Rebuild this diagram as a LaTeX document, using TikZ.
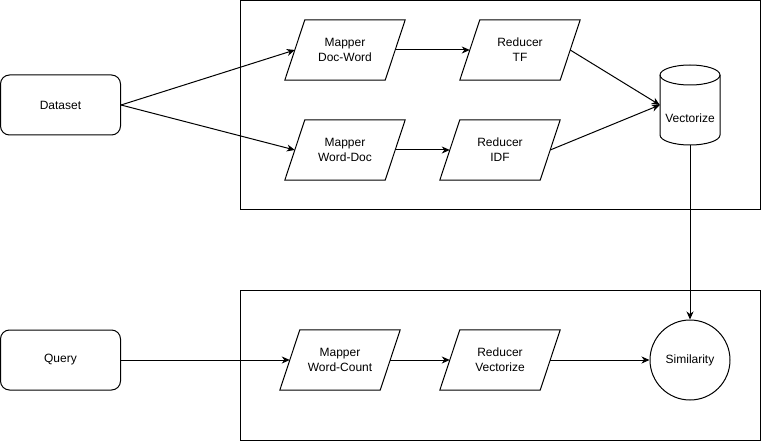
\documentclass[tikz,border=0pt]{standalone}
\usepackage{fontspec}
\setmainfont{Liberation Sans}
\usetikzlibrary{arrows.meta}
\begin{document}
\begin{tikzpicture}[x=1pt, y=-1pt,
  every node/.style={font=\fontsize{12}{15}\selectfont, align=center, inner sep=0pt},
  line/.style={line width=1pt},
  flow/.style={line width=1pt, -{Stealth[length=8pt, width=7pt, inset=2.5pt]}},
  startbox/.style={draw, line width=1pt, rounded corners=9pt, minimum width=120pt, minimum height=60pt},
  slot/.style={minimum width=100pt, minimum height=60pt},
  pgram/.style={line width=1pt, line join=miter}
]
\useasboundingbox (0,0) rectangle (761,441);

% group frames
\draw[line] (240,0.5) rectangle (760,210);
\draw[line] (240,290) rectangle (760,440);

% sources
\node[startbox] (data)  at (60.5,105) {Dataset};
\node[startbox] (query) at (60.5,360) {Query};

% map/reduce steps (parallelograms drawn below)
\node[slot] (mdw) at (345,50)  {Mapper\\Doc-Word};
\node[slot] (rtf) at (520,50)  {Reducer\\TF};
\node[slot] (mwd) at (345,150) {Mapper\\Word-Doc};
\node[slot] (rid) at (500,150) {Reducer\\IDF};
\node[slot] (mwc) at (340,360) {Mapper\\Word-Count};
\node[slot] (rvc) at (500,360) {Reducer\\Vectorize};
\foreach \n in {mdw,rtf,mwd,rid,mwc,rvc}
  \draw[pgram] ([xshift=10pt]\n.north west) -- ([xshift=10pt]\n.north east)
    -- ([xshift=-10pt]\n.south east) -- ([xshift=-10pt]\n.south west) -- cycle;

% vector store (cylinder)
\node[minimum width=60pt, minimum height=80pt] (vec) at (690,105) {};
\draw[line] (660,75) -- (660,135) arc (180:360:30pt and 10pt) -- (720,75)
  arc (0:180:30pt and 10pt) -- cycle;
\draw[line] (660,75) arc (180:360:30pt and 10pt);
\node at (690,118) {Vectorize};

% similarity
\node[draw, line width=1pt, circle, minimum size=80pt] (sim) at (690,360) {Similarity};

% connectors
\draw[flow] (data.east) -- (mdw.west);
\draw[flow] (data.east) -- (mwd.west);
\draw[flow] (mdw.east) -- (rtf.west);
\draw[flow] (mwd.east) -- (rid.west);
\draw[flow] (rtf.east) -- (vec.west);
\draw[flow] (rid.east) -- (vec.west);
\draw[flow] (vec.south) -- (sim.north);
\draw[flow] (query.east) -- (mwc.west);
\draw[flow] (mwc.east) -- (rvc.west);
\draw[flow] (rvc.east) -- (sim.west);
\end{tikzpicture}
\end{document}
